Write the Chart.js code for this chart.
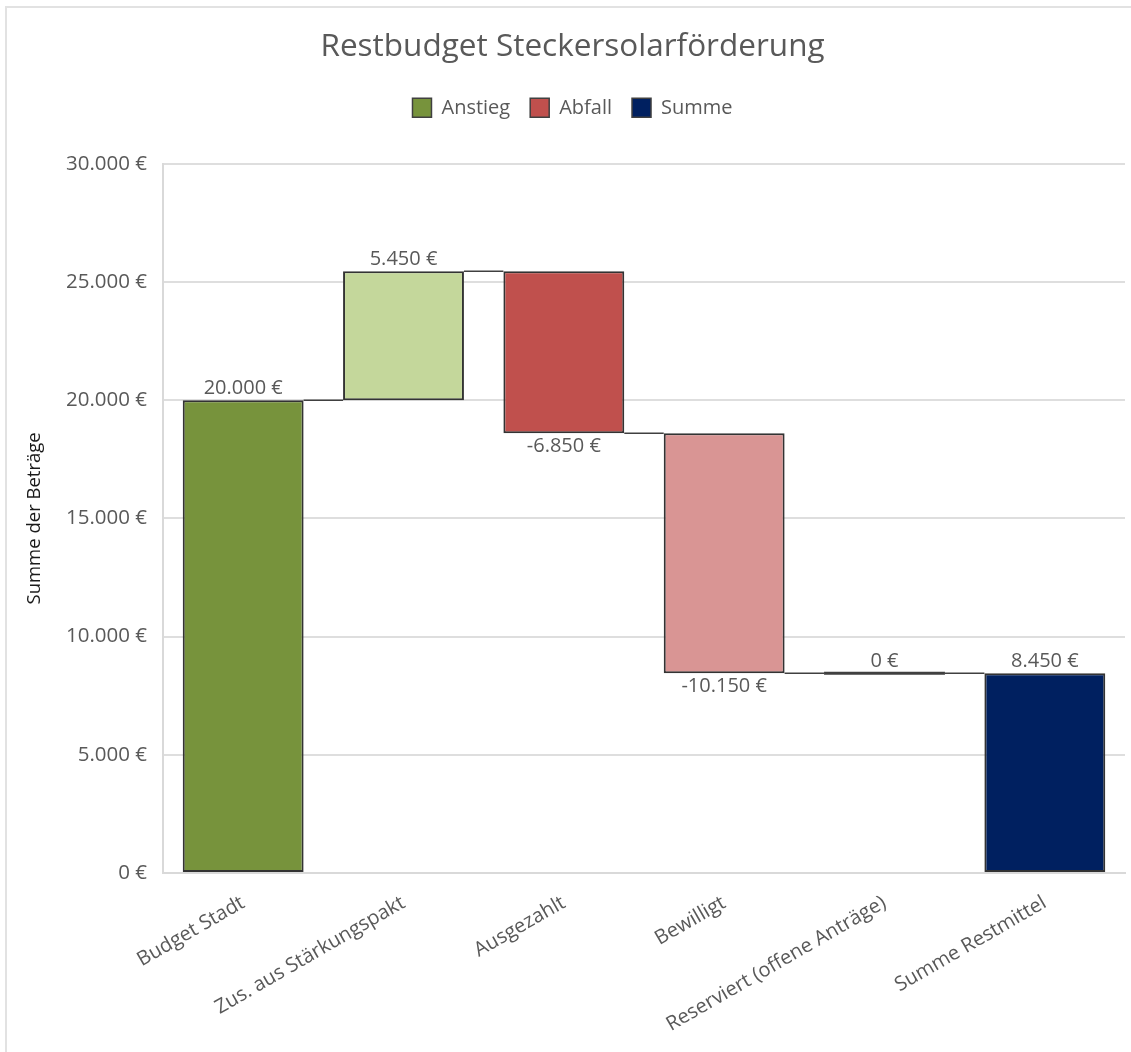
<!DOCTYPE html>
<html>
<head>
<meta charset="utf-8">
<script src="https://cdn.jsdelivr.net/npm/chart.js@4.4.1/dist/chart.umd.min.js"></script>
<style>
  html, body { margin: 0; padding: 0; background: #fff; }
  #wrap { position: relative; width: 1131px; height: 1052px; }
  #frame { position: absolute; left: 5px; top: 6px; right: 0; bottom: 0;
           border-left: 2px solid #e2e2e2; border-top: 2px solid #e2e2e2; }
  canvas { position: absolute; left: 0; top: 0; }
</style>
</head>
<body>
<div id="wrap">
  <div id="frame"></div>
  <canvas id="chart" width="1131" height="1052"></canvas>
</div>
<script>
const categories = [
  "Budget Stadt",
  "Zus. aus Stärkungspakt",
  "Ausgezahlt",
  "Bewilligt",
  "Reserviert (offene Anträge)",
  "Summe Restmittel",
];
// change per step; the last one is the total
const changes = [20000, 5450, -6850, -10150, 0, 8450];
const kinds = ["up", "up", "down", "down", "down", "total"];
const yTicks = { min: 0, max: 30000, step: 5000 };

const legendNames = ["Anstieg", "Abfall", "Summe"];
const legendColors = ["#77933C", "#C0504D", "#002060"];
const barColors = ["#77933C", "#C4D79B", "#C0504D", "#D99594", "#C0504D", "#002060"];

const textColor = "#595959";
const fontFamily = "'Open Sans', 'Noto Sans', sans-serif";

function euro(v) {
  const sign = v < 0 ? "-" : "";
  const s = String(Math.abs(Math.round(v))).replace(/\B(?=(\d{3})+(?!\d))/g, ".");
  return sign + s + " €";
}

// floating bars [start, end] from the running total
let running = 0;
const floats = changes.map((c, i) => {
  if (kinds[i] === "total") return [0, c];
  const start = running;
  running += c;
  return [start, running];
});

// extra room below the legend
const legendGap = {
  id: "legendGap",
  beforeInit(chart) {
    const fit = chart.legend.fit;
    chart.legend.fit = function () {
      fit.bind(chart.legend)();
      this.height += 36;
    };
  },
};

const waterfallExtras = {
  id: "waterfallExtras",
  afterDatasetsDraw(chart) {
    const ctx = chart.ctx;
    const meta = chart.getDatasetMeta(0);
    const y = chart.scales.y;
    ctx.save();
    // connectors
    ctx.strokeStyle = "#404040";
    ctx.lineWidth = 1.5;
    for (let i = 0; i < meta.data.length - 1; i++) {
      const a = meta.data[i], b = meta.data[i + 1];
      const level = y.getPixelForValue(floats[i][1]);
      ctx.beginPath();
      ctx.moveTo(a.x + a.width / 2, level);
      ctx.lineTo(b.x - b.width / 2, level);
      ctx.stroke();
    }
    // zero-height bars
    meta.data.forEach((bar, i) => {
      if (floats[i][0] === floats[i][1]) {
        const py = y.getPixelForValue(floats[i][0]);
        ctx.lineWidth = 3;
        ctx.beginPath();
        ctx.moveTo(bar.x - bar.width / 2, py);
        ctx.lineTo(bar.x + bar.width / 2, py);
        ctx.stroke();
      }
    });
    // value labels
    ctx.fillStyle = textColor;
    ctx.font = "20px " + fontFamily;
    ctx.textAlign = "center";
    meta.data.forEach((bar, i) => {
      const top = y.getPixelForValue(Math.max(floats[i][0], floats[i][1]));
      const bottom = y.getPixelForValue(Math.min(floats[i][0], floats[i][1]));
      if (changes[i] < 0) {
        ctx.textBaseline = "top";
        ctx.fillText(euro(changes[i]), bar.x, bottom + 3);
      } else {
        ctx.textBaseline = "bottom";
        ctx.fillText(euro(changes[i]), bar.x, top - 2);
      }
    });
    ctx.restore();
  },
};

new Chart(document.getElementById("chart"), {
  type: "bar",
  data: {
    labels: categories,
    datasets: [
      {
        label: "Beträge",
        data: floats,
        backgroundColor: barColors,
        borderColor: "#333333",
        borderWidth: 2,
        borderSkipped: false,
        barPercentage: 0.754,
        categoryPercentage: 1,
      },
    ],
  },
  options: {
    responsive: false,
    animation: false,
    layout: { padding: { left: 20, right: 6, top: 28, bottom: 0 } },
    plugins: {
      title: {
        display: true,
        text: "Restbudget Steckersolarförderung",
        color: textColor,
        font: { family: fontFamily, size: 31.5, weight: "normal" },
        padding: { top: 0, bottom: 12 },
      },
      legend: {
        position: "top",
        onClick: null,
        labels: {
          color: textColor,
          font: { family: fontFamily, size: 20 },
          boxWidth: 19,
          boxHeight: 19,
          padding: 20,
          generateLabels: () =>
            legendNames.map((name, i) => ({
              text: name,
              fillStyle: legendColors[i],
              strokeStyle: "#404040",
              lineWidth: 1.5,
              fontColor: textColor,
              hidden: false,
              datasetIndex: 0,
            })),
        },
      },
      tooltip: { enabled: false },
    },
    scales: {
      x: {
        grid: { display: false, drawTicks: false },
        border: { display: true, color: "#d9d9d9", width: 2 },
        ticks: {
          color: textColor,
          font: { family: fontFamily, size: 20 },
          autoSkip: false,
          minRotation: 30,
          maxRotation: 30,
          padding: 18,
        },
        afterFit: (scale) => { scale.height = 179; },
      },
      y: {
        min: yTicks.min,
        max: yTicks.max,
        grid: { color: "#dedede", lineWidth: 2, drawTicks: false },
        border: { display: true, color: "#d9d9d9", width: 2 },
        ticks: {
          stepSize: yTicks.step,
          color: textColor,
          font: { family: fontFamily, size: 20.5 },
          padding: 16,
          callback: (v) => euro(v),
        },
        title: {
          display: true,
          text: "Summe der Beträge",
          color: "#1a1a1a",
          font: { family: fontFamily, size: 18.5 },
          padding: { top: 4, bottom: 0 },
        },
        afterFit: (scale) => { scale.width = 143; },
      },
    },
  },
  plugins: [legendGap, waterfallExtras],
});
</script>
</body>
</html>
